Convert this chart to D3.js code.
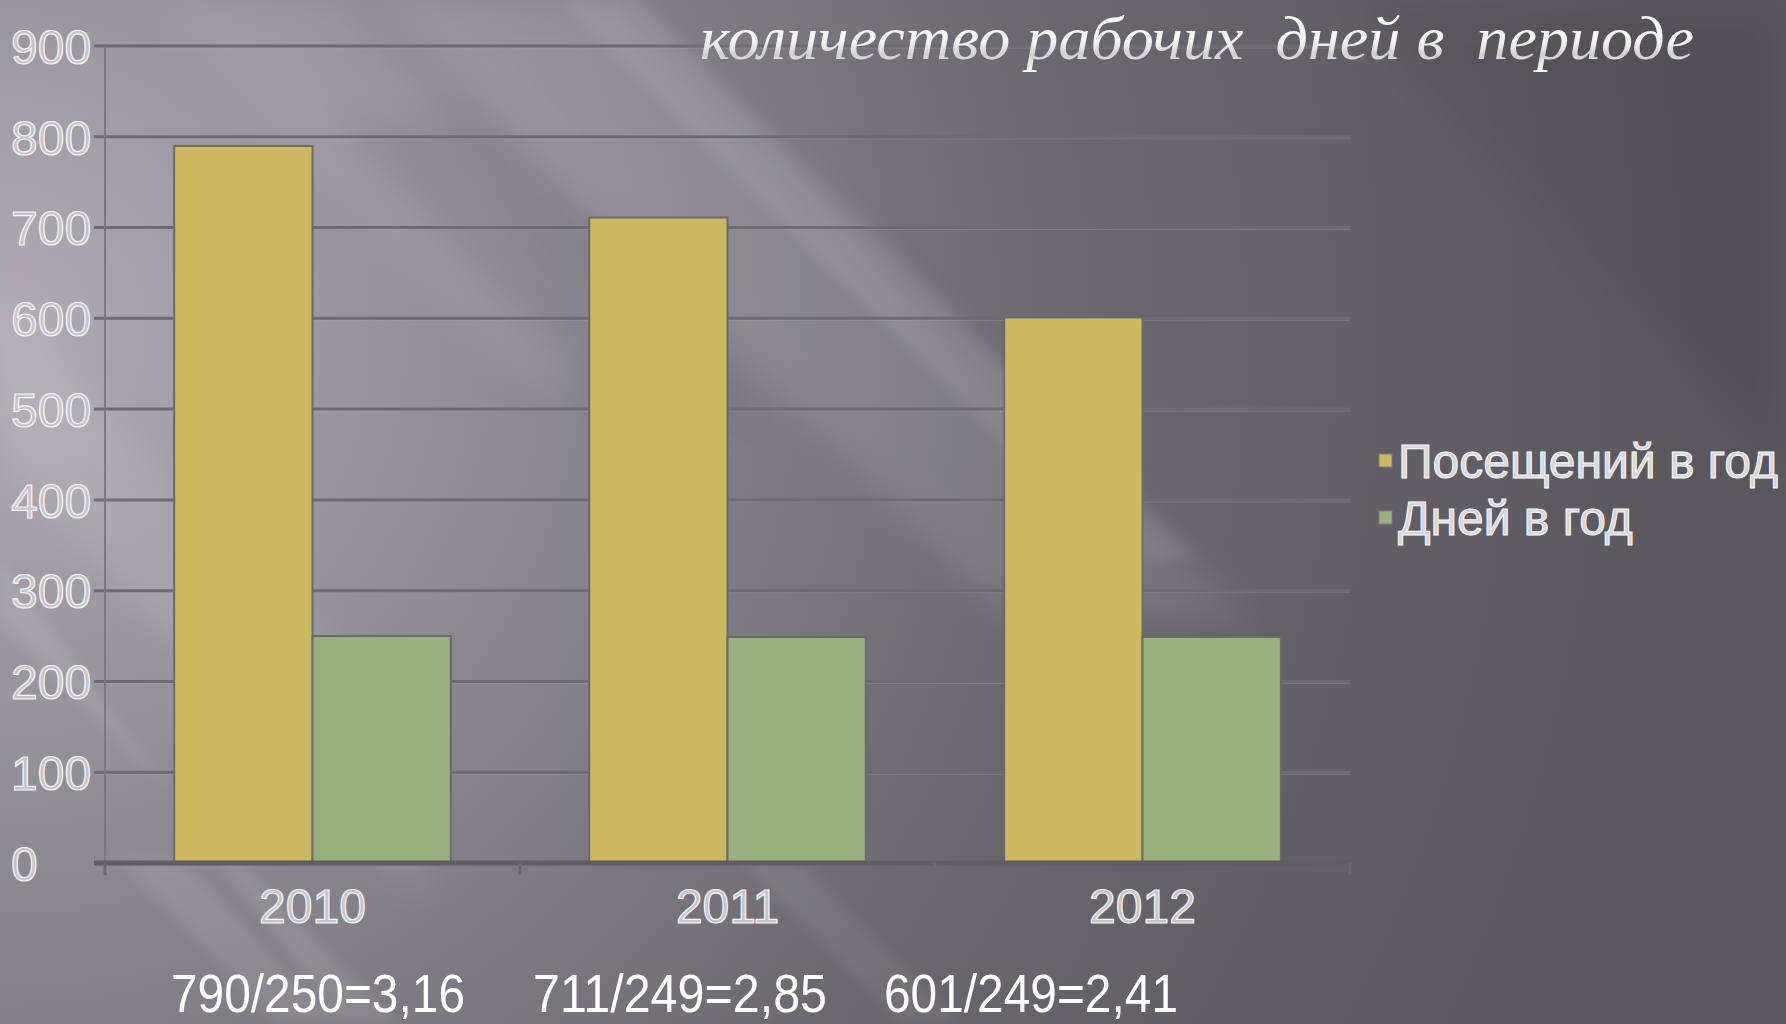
<!DOCTYPE html>
<html>
<head>
<meta charset="utf-8">
<script src="https://cdn.jsdelivr.net/npm/d3@7"></script>
<style>
  html, body { margin: 0; padding: 0; background: #6e6b72; overflow: hidden; }
  svg { display: block; }
</style>
</head>
<body>
<svg id="chart" width="1786" height="1024"></svg>
<script>
// ---- data ----
const categories = ["2010", "2011", "2012"];
const seriesNames = ["Посещений в год", "Дней в год"];
const visits = [790, 711, 601];
const days = [250, 249, 249];
const yTicks = [0, 100, 200, 300, 400, 500, 600, 700, 800, 900];
const ratioLabels = ["790/250=3,16", "711/249=2,85", "601/249=2,41"];
const titleText = "количество рабочих  дней в  периоде";
const seriesColors = ["#cdb862", "#9bb07f"];

// ---- layout ----
const W = 1786, H = 1024;
const plot = { left: 105, right: 1350, top: 46, bottom: 863 };

const svg = d3.select("#chart");
const defs = svg.append("defs");

// background
const bg = defs.append("radialGradient").attr("id", "bgGrad")
  .attr("gradientUnits", "userSpaceOnUse")
  .attr("cx", 0).attr("cy", 330).attr("r", 1700);
bg.append("stop").attr("offset", 0).attr("stop-color", "#b0abb6");
bg.append("stop").attr("offset", 0.3).attr("stop-color", "#8f8b95");
bg.append("stop").attr("offset", 0.65).attr("stop-color", "#69666d");
bg.append("stop").attr("offset", 1).attr("stop-color", "#5a575e");
svg.append("rect").attr("width", W).attr("height", H).attr("fill", "url(#bgGrad)");

defs.append("filter").attr("id", "blur").attr("x", "-20%").attr("y", "-20%").attr("width", "140%").attr("height", "140%")
  .append("feGaussianBlur").attr("stdDeviation", 18);
defs.append("filter").attr("id", "blurS").attr("x", "-20%").attr("y", "-20%").attr("width", "140%").attr("height", "140%")
  .append("feGaussianBlur").attr("stdDeviation", 6);

const streaks = svg.append("g");
const lightBands = [
  { pts: [[380,0],[620,0],[1250,620],[1010,620]], o: 0.10, f: "blur" },
  { pts: [[560,0],[640,0],[1200,560],[1120,560]], o: 0.08, f: "blurS" },
  { pts: [[0,300],[0,460],[420,900],[420,740]], o: 0.10, f: "blur" },
  { pts: [[0,560],[0,620],[400,1024],[340,1024]], o: 0.09, f: "blurS" },
  { pts: [[120,860],[180,860],[340,1024],[280,1024]], o: 0.08, f: "blurS" },
  { pts: [[700,820],[760,820],[960,1024],[900,1024]], o: 0.06, f: "blurS" },
  { pts: [[150,0],[330,0],[700,380],[520,380]], o: 0.07, f: "blur" }
];
streaks.selectAll("path.light").data(lightBands).join("path")
  .attr("class", "light")
  .attr("d", d => "M" + d.pts.join("L") + "Z")
  .attr("fill", "#ffffff").attr("opacity", d => d.o)
  .attr("filter", d => "url(#" + d.f + ")");
const darkBands = [
  { pts: [[1350,0],[1786,0],[1786,480]], o: 0.07 },
  { pts: [[330,120],[470,120],[760,420],[620,420]], o: 0.07 }
];
streaks.selectAll("path.dark").data(darkBands).join("path")
  .attr("class", "dark")
  .attr("d", d => "M" + d.pts.join("L") + "Z")
  .attr("fill", "#000000").attr("opacity", d => d.o)
  .attr("filter", "url(#blur)");

// ---- scales ----
const x = d3.scaleBand().domain(categories).range([plot.left, plot.right]).padding(0);
const xs = d3.scaleBand().domain(seriesNames).range([0, x.bandwidth()]).paddingInner(0).paddingOuter(0.5);
const y = d3.scaleLinear().domain([0, 900]).range([plot.bottom, plot.top]);

// gridlines
const grid = svg.append("g");
grid.selectAll("line.g1").data(yTicks.filter(t => t > 0)).join("line")
  .attr("class", "g1")
  .attr("x1", plot.left - 11).attr("x2", plot.right)
  .attr("y1", d => y(d) + 2).attr("y2", d => y(d) + 2)
  .attr("stroke", "#a8a5ad").attr("stroke-opacity", 0.35).attr("stroke-width", 1);
grid.selectAll("line.g").data(yTicks.filter(t => t > 0)).join("line")
  .attr("class", "g")
  .attr("x1", plot.left - 11).attr("x2", plot.right)
  .attr("y1", d => y(d)).attr("y2", d => y(d))
  .attr("stroke", "#6d6a72").attr("stroke-width", 3);

// y axis line
svg.append("line")
  .attr("x1", plot.left).attr("x2", plot.left)
  .attr("y1", plot.top).attr("y2", plot.bottom + 10)
  .attr("stroke", "#7b7880").attr("stroke-width", 2);

// bars
const rows = categories.map((c, i) => ({ cat: c, vals: [visits[i], days[i]] }));
const barG = svg.append("g");
rows.forEach(r => {
  barG.selectAll(null).data(r.vals.map((v, j) => ({ v, s: seriesNames[j], j }))).join("rect")
    .attr("x", d => x(r.cat) + xs(d.s))
    .attr("width", xs.bandwidth())
    .attr("y", d => y(d.v))
    .attr("height", d => y(0) - y(d.v))
    .attr("fill", d => seriesColors[d.j])
    .attr("stroke", "#6c6a66").attr("stroke-width", 2);
});

// baseline (x axis)
svg.append("line")
  .attr("x1", plot.left - 11).attr("x2", plot.right)
  .attr("y1", y(0)).attr("y2", y(0))
  .attr("stroke", "#5f5c63").attr("stroke-width", 5);
const xAxis = d3.axisBottom(x).tickSize(0).tickFormat(d => d);
const xg = svg.append("g").attr("transform", `translate(0,${y(0)})`).call(xAxis);
xg.select(".domain").remove();
const bounds = categories.map(c => x(c)).concat([x(categories[categories.length - 1]) + x.bandwidth()]);
svg.selectAll("line.xt").data(bounds).join("line").attr("class", "xt")
  .attr("x1", d => d).attr("x2", d => d)
  .attr("y1", y(0)).attr("y2", y(0) + 12)
  .attr("stroke", "#6a676e").attr("stroke-width", 3);

xg.selectAll("text")
  .attr("y", 0).attr("dy", 0)
  .attr("transform", "translate(0,60)")
  .style("font-family", "'Liberation Sans', Arial, sans-serif")
  .style("font-size", "48px")
  .attr("fill", "#c6c3ca").attr("stroke", "#f6f6f8").attr("stroke-width", 1.2);

// y axis labels (left aligned)
const yAxis = d3.axisLeft(y).tickValues(yTicks).tickSize(0).tickPadding(0).tickFormat(d3.format("d"));
const yg = svg.append("g").attr("transform", `translate(11,0)`).call(yAxis);
yg.select(".domain").remove();
yg.selectAll("text")
  .attr("x", 0).attr("dy", "0.36em")
  .attr("text-anchor", "start")
  .style("font-family", "'Liberation Sans', Arial, sans-serif")
  .style("font-size", "48px")
  .attr("fill", "#c6c3ca").attr("stroke", "#f6f6f8").attr("stroke-width", 1.2);

// legend
const legend = svg.append("g").attr("transform", "translate(1379,461)");
const li = legend.selectAll("g").data(seriesNames).join("g")
  .attr("transform", (d, i) => `translate(0,${i * 57})`);
li.append("rect").attr("x", 0).attr("y", -7).attr("width", 13).attr("height", 13)
  .attr("fill", (d, i) => seriesColors[i]).attr("stroke", "#807d84").attr("stroke-width", 1);
li.append("text").attr("x", 19).attr("y", 17).text(d => d)
  .style("font-family", "'Liberation Sans', Arial, sans-serif")
  .style("font-size", "48px")
  .attr("fill", "#d8d6dc").attr("stroke", "#fafafa").attr("stroke-width", 1);

// title
const tg = defs.append("linearGradient").attr("id", "titleGrad").attr("x1", 0).attr("y1", 0).attr("x2", 0).attr("y2", 1);
tg.append("stop").attr("offset", 0).attr("stop-color", "#ffffff");
tg.append("stop").attr("offset", 0.55).attr("stop-color", "#f4f4f4");
tg.append("stop").attr("offset", 0.75).attr("stop-color", "#d0d0d0");
tg.append("stop").attr("offset", 1).attr("stop-color", "#ffffff");
svg.append("text").attr("x", 700).attr("y", 59)
  .attr("textLength", 994).attr("lengthAdjust", "spacingAndGlyphs")
  .style("font-family", "'Liberation Serif', 'DejaVu Serif', serif")
  .style("font-style", "italic")
  .style("font-size", "62px")
  .style("white-space", "pre")
  .attr("fill", "url(#titleGrad)")
  .text(titleText);

// ratio labels
const ratioX = [171, 533, 884];
svg.selectAll("text.ratio").data(ratioLabels).join("text").attr("class", "ratio")
  .attr("x", (d, i) => ratioX[i]).attr("y", 1012)
  .attr("textLength", 294).attr("lengthAdjust", "spacingAndGlyphs")
  .style("font-family", "'Liberation Sans', Arial, sans-serif")
  .style("font-size", "54px")
  .attr("fill", "#ffffff")
  .text(d => d);
</script>
</body>
</html>
